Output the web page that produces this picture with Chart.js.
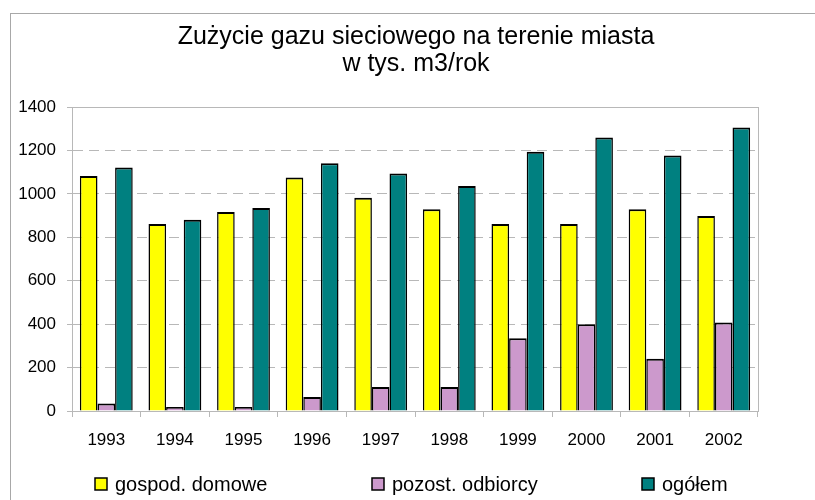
<!DOCTYPE html>
<html>
<head>
<meta charset="utf-8">
<script src="https://cdn.jsdelivr.net/npm/chart.js@4.4.0/dist/chart.umd.min.js"></script>
<style>
  html, body { margin: 0; padding: 0; background: #fff; }
  canvas { display: block; }
</style>
</head>
<body>
<canvas id="gazChart" width="815" height="500"></canvas>
<script>
// Dane (tys. m3/rok)
const lata = ['1993', '1994', '1995', '1996', '1997', '1998', '1999', '2000', '2001', '2002'];
const gospodDomowe = [1082, 861, 916, 1075, 982, 929, 861, 861, 929, 898];
const pozostOdbiorcy = [35, 18, 18, 64, 110, 110, 335, 399, 241, 408];
const ogolem = [1121, 881, 935, 1141, 1094, 1036, 1194, 1260, 1177, 1306];
const osY = { min: 0, max: 1400, krok: 200 };

const FONT = "'Liberation Sans', Arial, sans-serif";
const SZARY = '#b8b8b8';

// ramka całego obrazka i obramowanie obszaru wykresu
const ramka = {
  id: 'ramka',
  beforeDraw(chart) {
    const ctx = chart.ctx;
    ctx.save();
    ctx.strokeStyle = '#a8a8a8';
    ctx.lineWidth = 1;
    ctx.strokeRect(10.5, 13.5, 900, 600);
    ctx.restore();
  },
  beforeDatasetsDraw(chart) {
    const a = chart.chartArea;
    const ctx = chart.ctx;
    ctx.save();
    ctx.strokeStyle = SZARY;
    ctx.lineWidth = 1;
    ctx.strokeRect(Math.round(a.left) + 0.5, Math.round(a.top) + 0.5,
      Math.round(a.right - a.left), Math.round(a.bottom - a.top));
    ctx.restore();
  }
};

// legenda rozstawiona jak w oryginale
const legenda = {
  id: 'legenda',
  afterDraw(chart) {
    const ctx = chart.ctx;
    const pozX = [95, 372, 642];
    const y = 491;
    ctx.save();
    ctx.font = '20px ' + FONT;
    ctx.textBaseline = 'alphabetic';
    ctx.textAlign = 'left';
    chart.data.datasets.forEach((ds, i) => {
      const x = pozX[i];
      ctx.fillStyle = ds.backgroundColor;
      ctx.fillRect(x, y - 13, 12, 12);
      ctx.strokeStyle = '#000';
      ctx.lineWidth = 1.5;
      ctx.strokeRect(x, y - 13, 12, 12);
      ctx.fillStyle = '#000';
      ctx.fillText(ds.label, x + 20, y);
    });
    ctx.restore();
  }
};

new Chart(document.getElementById('gazChart'), {
  type: 'bar',
  data: {
    labels: lata,
    datasets: [
      { label: 'gospod. domowe', data: gospodDomowe, backgroundColor: '#ffff00' },
      { label: 'pozost. odbiorcy', data: pozostOdbiorcy, backgroundColor: '#cc99cc' },
      { label: 'ogółem', data: ogolem, backgroundColor: '#008080' }
    ]
  },
  options: {
    responsive: false,
    animation: false,
    layout: { padding: { left: 17, right: 0, top: 0, bottom: 49 } },
    datasets: {
      bar: {
        borderColor: '#000',
        borderWidth: { top: 2, left: 1.5, right: 1.5, bottom: 0 },
        categoryPercentage: 0.77,
        barPercentage: 1.0
      }
    },
    plugins: {
      legend: { display: false },
      tooltip: { enabled: false },
      title: {
        display: true,
        text: ['Zużycie gazu sieciowego na terenie miasta', 'w tys. m3/rok'],
        color: '#000',
        font: { family: FONT, size: 25, weight: 'normal', lineHeight: 1.06 },
        padding: { top: 24, bottom: 30 }
      }
    },
    scales: {
      x: {
        grid: { drawOnChartArea: false, offset: true, tickLength: 6, color: SZARY },
        border: { color: SZARY },
        ticks: { color: '#000', padding: 13, font: { family: FONT, size: 17 } },
        afterFit: s => { s.height = 40; }
      },
      y: {
        min: osY.min,
        max: osY.max,
        grid: {
          color: c => (c.tick && c.tick.value === osY.max ? 'rgba(0,0,0,0)' : SZARY),
          tickColor: SZARY,
          tickLength: 5,
          tickBorderDash: []
        },
        border: { color: SZARY, dash: [10, 6] },
        ticks: {
          stepSize: osY.krok,
          color: '#000',
          padding: 11,
          font: { family: FONT, size: 17 },
          callback: v => String(v)
        },
        afterFit: s => { s.width = 55; }
      },
      prawa: {
        position: 'right',
        grid: { display: false },
        border: { display: false },
        ticks: { display: false },
        afterFit: s => { s.width = 57; }
      }
    }
  },
  plugins: [ramka, legenda]
});
</script>
</body>
</html>
